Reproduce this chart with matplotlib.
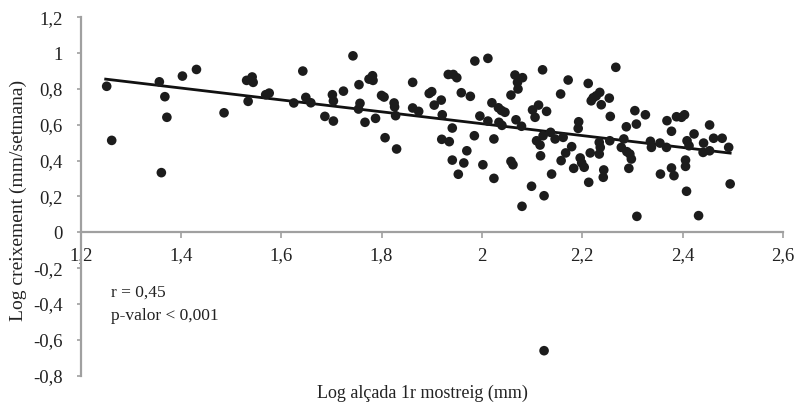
import numpy as np
import matplotlib
matplotlib.use("Agg")
import matplotlib.pyplot as plt

# first-sampling height (log mm) vs growth rate (log mm/week)
log_alcada = [1.252, 1.262, 1.357, 1.368, 1.372, 1.361, 1.403, 1.431, 1.486, 1.531,
              1.542, 1.544, 1.534, 1.569, 1.576, 1.625, 1.643, 1.649, 1.659, 1.687,
              1.702, 1.704, 1.704, 1.724, 1.743, 1.755, 1.757, 1.754, 1.767, 1.775,
              1.782, 1.783, 1.788, 1.800, 1.805, 1.807, 1.825, 1.826, 1.828, 1.830,
              1.862, 1.862, 1.874, 1.895, 1.900, 1.905, 1.919, 1.921, 1.920, 1.935,
              1.933, 1.943, 1.950, 1.941, 1.941, 1.953, 1.959, 1.964, 1.970, 1.977,
              1.985, 1.986, 1.996, 2.002, 2.012, 2.012, 2.020, 2.024, 2.024, 2.033,
              2.039, 2.046, 2.034, 2.040, 2.058, 2.062, 2.066, 2.081, 2.071, 2.072,
              2.058, 2.068, 2.079, 2.099, 2.101, 2.106, 2.113, 2.129, 2.109, 2.116,
              2.121, 2.124, 2.117, 2.122, 2.137, 2.139, 2.146, 2.157, 2.158, 2.162,
              2.167, 2.172, 2.179, 2.183, 2.192, 2.193, 2.196, 2.199, 2.204, 2.212,
              2.213, 2.216, 2.218, 2.222, 2.228, 2.235, 2.238, 2.234, 2.236, 2.234,
              2.243, 2.242, 2.254, 2.255, 2.256, 2.267, 2.278, 2.283, 2.288, 2.289,
              2.295, 2.298, 2.293, 2.305, 2.308, 2.326, 2.336, 2.338, 2.355, 2.356,
              2.368, 2.369, 2.378, 2.378, 2.383, 2.388, 2.398, 2.404, 2.406, 2.406,
              2.408, 2.409, 2.413, 2.423, 2.442, 2.441, 2.454, 2.454, 2.462, 2.479,
              2.492, 2.495, 2.080, 2.309, 2.432, 2.124]
log_creix = [0.815, 0.513, 0.840, 0.757, 0.642, 0.333, 0.872, 0.909, 0.667, 0.848,
             0.867, 0.837, 0.731, 0.768, 0.777, 0.722, 0.900, 0.753, 0.723, 0.647,
             0.768, 0.733, 0.621, 0.788, 0.985, 0.824, 0.720, 0.688, 0.614, 0.855,
             0.874, 0.848, 0.636, 0.764, 0.755, 0.528, 0.722, 0.700, 0.651, 0.465,
             0.837, 0.694, 0.675, 0.775, 0.785, 0.710, 0.738, 0.656, 0.519, 0.506,
             0.881, 0.881, 0.863, 0.582, 0.403, 0.324, 0.779, 0.387, 0.455, 0.759,
             0.539, 0.956, 0.649, 0.377, 0.971, 0.621, 0.723, 0.521, 0.301, 0.695,
             0.680, 0.670, 0.614, 0.597, 0.396, 0.377, 0.878, 0.863, 0.837, 0.800,
             0.766, 0.628, 0.592, 0.257, 0.683, 0.642, 0.710, 0.675, 0.511, 0.487,
             0.907, 0.204, 0.427, 0.539, 0.558, 0.325, 0.521, 0.772, 0.400, 0.530,
             0.443, 0.850, 0.478, 0.357, 0.580, 0.617, 0.415, 0.387, 0.363, 0.831,
             0.279, 0.443, 0.734, 0.751, 0.762, 0.781, 0.712, 0.502, 0.474, 0.437,
             0.348, 0.307, 0.749, 0.511, 0.647, 0.921, 0.474, 0.521, 0.589, 0.450,
             0.437, 0.409, 0.357, 0.679, 0.604, 0.656, 0.508, 0.474, 0.498, 0.325,
             0.474, 0.623, 0.564, 0.359, 0.316, 0.645, 0.642, 0.656, 0.403, 0.368,
             0.229, 0.511, 0.483, 0.549, 0.498, 0.446, 0.599, 0.455, 0.525, 0.525,
             0.474, 0.270, 0.145, 0.089, 0.093, -0.661]

# trend line end points as drawn in the figure
tend_x = [1.25, 2.495]
tend_y = [0.855, 0.442]

xticks = [1.2, 1.4, 1.6, 1.8, 2.0, 2.2, 2.4, 2.6]
yticks = [-0.8, -0.6, -0.4, -0.2, 0, 0.2, 0.4, 0.6, 0.8, 1.0, 1.2]


def coma(v):
    s = ('%.1f' % v).rstrip('0').rstrip('.')
    if s == '-0':
        s = '0'
    return s.replace('.', ',')


plt.rcParams['font.family'] = ['Liberation Serif', 'DejaVu Serif']
gris = '#a0a0a0'
text_col = '#222222'

fig = plt.figure(figsize=(7.98, 4.03), dpi=100)
ax = fig.add_axes([0.101, 0.068, 0.880, 0.889])

ax.scatter(log_alcada, log_creix, s=48, color='#1c1c1c', edgecolors='none', zorder=3)
ax.plot(tend_x, tend_y, color='#111111', linewidth=2.0, zorder=2)

ax.set_xlim(1.2, 2.6)
ax.set_ylim(-0.8, 1.2)
ax.spines['top'].set_visible(False)
ax.spines['right'].set_visible(False)
ax.spines['bottom'].set_position(('data', 0))
for sp in ['left', 'bottom']:
    ax.spines[sp].set_color(gris)
    ax.spines[sp].set_linewidth(1.6)

ax.set_xticks(xticks)
ax.set_xticklabels([coma(v) for v in xticks])
ax.set_yticks(yticks)
ax.set_yticklabels([coma(v) for v in yticks])
ax.tick_params(axis='x', direction='out', length=4, width=1.2, color=gris,
               labelsize=13.5, labelcolor=text_col, pad=7)
ax.tick_params(axis='y', direction='out', length=3, width=1.2, color=gris,
               labelsize=13.5, labelcolor=text_col, pad=10)

ax.text(0.487, -0.025, 'Log alçada 1r mostreig (mm)', transform=ax.transAxes,
        ha='center', va='top', fontsize=13, color=text_col)
ax.text(-0.088, 0.49, 'Log creixement (mm/setmana)', transform=ax.transAxes,
        ha='center', va='center', rotation=90, fontsize=14, color=text_col)

ax.text(1.26, -0.335, 'r = 0,45', fontsize=12.5, color=text_col, va='center')
ax.text(1.26, -0.47, 'p-valor < 0,001', fontsize=12.5, color=text_col, va='center')

fig.savefig('out.png', dpi=100)
